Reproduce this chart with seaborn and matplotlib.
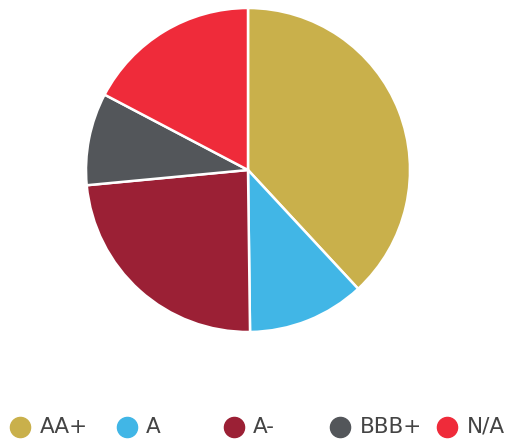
import matplotlib
matplotlib.use("Agg")
import matplotlib.pyplot as plt
import seaborn as sns
from matplotlib.lines import Line2D

labels = ['AA+', 'A', 'A-', 'BBB+', 'N/A']
values = [38.1, 11.7, 23.7, 9.2, 17.3]
colors = ['#C9B04B', '#41B6E6', '#9B2035', '#53565A', '#EF2B3A']

sns.set_theme(style='white')

W, H = 508, 441
fig = plt.figure(figsize=(W / 100, H / 100), dpi=100)
fig.patch.set_facecolor('white')

# pie area: centre (248,170), radius 162 px
cx, cy, r = 248, 170, 162
ax = fig.add_axes([(cx - r) / W, 1 - (cy + r) / H, 2 * r / W, 2 * r / H])
ax.pie(values, colors=colors, startangle=90, counterclock=False, radius=1,
       wedgeprops=dict(edgecolor='white', linewidth=1.8))
ax.set_xlim(-1, 1)
ax.set_ylim(-1, 1)
ax.set_aspect('auto')
ax.axis('off')

# legend row
for i, (lab, col) in enumerate(zip(labels, colors)):
    x = 20 + i * 106.8
    y = 427
    fig.add_artist(Line2D([x / W], [1 - y / H], marker='o', markersize=14.5,
                          color=col, linestyle='none', transform=fig.transFigure))
    fig.text((x + 19.5) / W, 1 - y / H, lab, fontsize=15.5, color='#444444',
             va='center', ha='left')

fig.savefig('out.png', dpi=100)
